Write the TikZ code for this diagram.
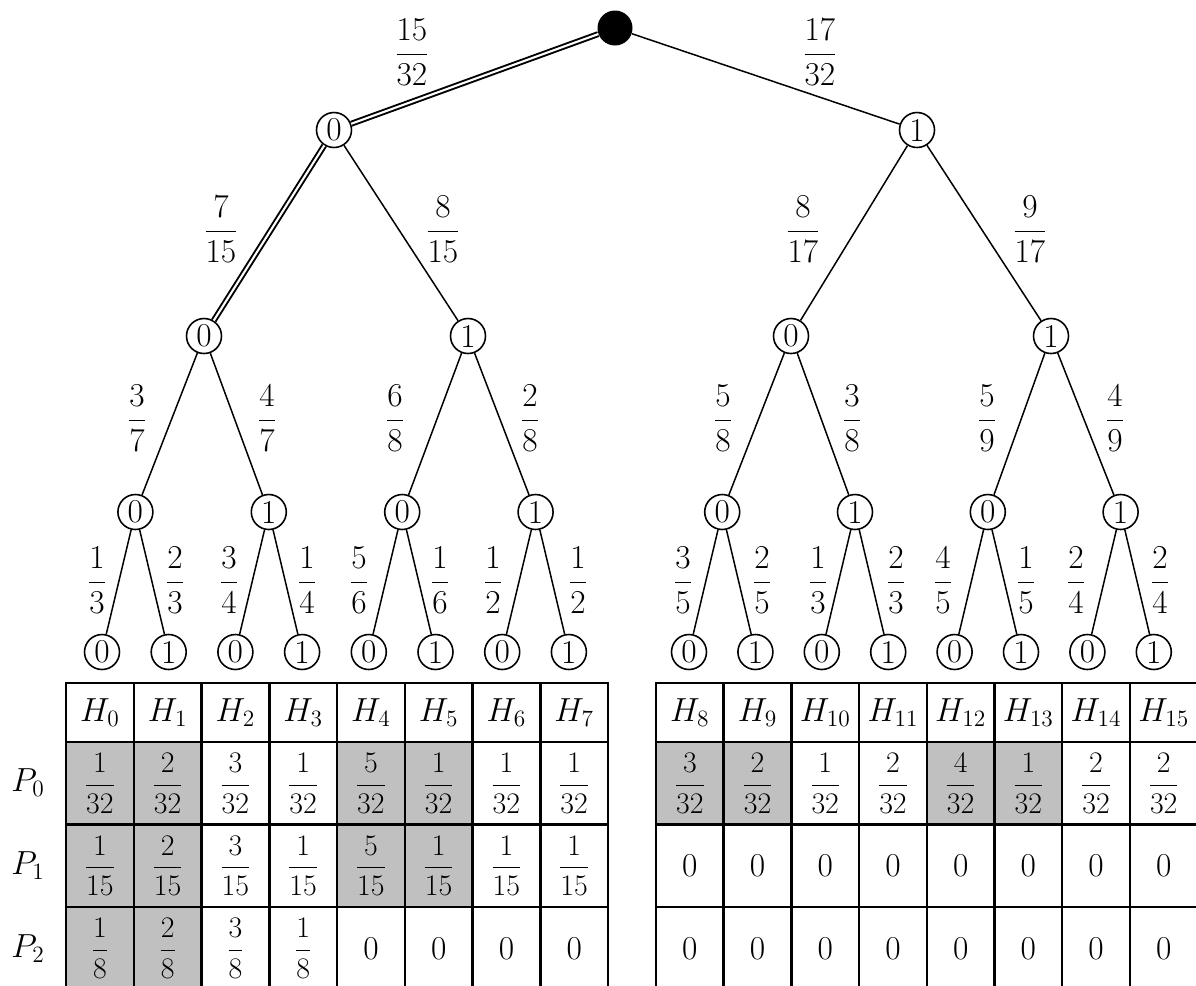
\RequirePackage{fix-cm}
\documentclass[tikz,border=0pt]{standalone}
\usepackage{amsmath}
\usetikzlibrary{positioning}
\definecolor{tbGray}{RGB}{192,192,192}
\newcommand{\cellfrac}[2]{{\fontsize{17}{20}\selectfont$\dfrac{#1}{#2}$}}
\tikzset{
    base/.style={font=\fontsize{19}{22}\selectfont, inner sep=0pt, align=center},
    state/.style={base, circle, draw, line width=0.9pt, minimum size=0.7cm},
    start/.style={circle, fill=black, inner sep=0pt, minimum size=0.7cm},
    branch/.style={line width=0.85pt},
    chosen/.style={double, line width=1.1pt, double distance=1.2pt},
    prob/.style={base},
    cell/.style={base, rectangle, draw, line width=1.4pt, minimum width=1.355cm},
    hcell/.style={cell, minimum height=1.18cm},
    vcell/.style={cell, minimum height=1.65cm},
    shaded/.style={fill=tbGray},
    plain/.style={}
}

\begin{document}
\begin{tikzpicture}[x=0.02cm, y=-0.02cm]
  \clip (0,0) rectangle (1196,985);

  % Tree (upper levels)
  \node[start] (root) at (615,28) {};
  \node[state] (n0) at (334,130) {0};
  \node[state] (n1) at (917,130) {1};
  \node[state] (n00) at (204,336) {0};
  \node[state] (n01) at (468,336) {1};
  \node[state] (n10) at (791,336) {0};
  \node[state] (n11) at (1051,336) {1};
  \foreach \x/\b [count=\k from 0] in {135.4/0, 268.8/1, 402.2/0, 535.6/1, 722.2/0, 855/1, 987.8/0, 1120.6/1}
    \node[state] (m\k) at (\x,512) {\b};

  \draw[chosen] (root) -- (n0);
  \draw[branch] (root) -- (n1);
  \draw[chosen] (n0) -- (n00);
  \draw[branch] (n0) -- (n01);
  \draw[branch] (n1) -- (n10);
  \draw[branch] (n1) -- (n11);
  \draw[branch] (n00) -- (m0);
  \draw[branch] (n00) -- (m1);
  \draw[branch] (n01) -- (m2);
  \draw[branch] (n01) -- (m3);
  \draw[branch] (n10) -- (m4);
  \draw[branch] (n10) -- (m5);
  \draw[branch] (n11) -- (m6);
  \draw[branch] (n11) -- (m7);

  % Leaves
  \foreach \x [count=\k from 0] in {102,168.7,235.4,302.1,368.8,435.5,502.2,568.9,689,755.4,821.8,888.2,954.6,1021,1087.4,1153.8}{
    \pgfmathtruncatemacro{\b}{mod(\k,2)}
    \pgfmathtruncatemacro{\p}{div(\k,2)}
    \node[state] (leaf\k) at (\x,652) {\b};
    \draw[branch] (m\p) -- (leaf\k);
  }

  % Branch probabilities
  \node[prob] (p0) at (412,52) {$\dfrac{15}{32}$};
  \node[prob] (p1) at (820,52) {$\dfrac{17}{32}$};
  \node[prob] (p00) at (221,229) {$\dfrac{7}{15}$};
  \node[prob] (p01) at (443,229) {$\dfrac{8}{15}$};
  \node[prob] (p10) at (803,229) {$\dfrac{8}{17}$};
  \node[prob] (p11) at (1030,229) {$\dfrac{9}{17}$};
  \foreach \x/\n/\d [count=\k from 0] in {137/3/7, 267/4/7, 395/6/8, 530/2/8, 723/5/8, 852/3/8, 987/5/9, 1115/4/9}
    \node[prob] (q\k) at (\x,418) {$\dfrac{\n}{\d}$};
  \foreach \x/\n/\d [count=\k from 0] in {97/1/3, 175/2/3, 229/3/4, 307/1/4, 359/5/6, 440/1/6, 493/1/2, 578/1/2,
                                          683/3/5, 762/2/5, 818/1/3, 896/2/3, 943/4/5, 1026/1/5, 1076/2/4, 1160/2/4}
    \node[prob] (r\k) at (\x,580) {$\dfrac{\n}{\d}$};

  % Left table
  \foreach \i in {0,...,7}
    \node[hcell] (lh\i) at (99.9+67.75*\i,712.5) {$H_{\i}$};
  \foreach \t/\f [count=\i from 0] in {\cellfrac{1}{32}/shaded, \cellfrac{2}{32}/shaded, \cellfrac{3}{32}/plain, \cellfrac{1}{32}/plain,
                                      \cellfrac{5}{32}/shaded, \cellfrac{1}{32}/shaded, \cellfrac{1}{32}/plain, \cellfrac{1}{32}/plain}
    \node[vcell, \f] (la0-\i) at (99.9+67.75*\i,783.25) {\t};
  \foreach \t/\f [count=\i from 0] in {\cellfrac{1}{15}/shaded, \cellfrac{2}{15}/shaded, \cellfrac{3}{15}/plain, \cellfrac{1}{15}/plain,
                                      \cellfrac{5}{15}/shaded, \cellfrac{1}{15}/shaded, \cellfrac{1}{15}/plain, \cellfrac{1}{15}/plain}
    \node[vcell, \f] (la1-\i) at (99.9+67.75*\i,865.75) {\t};
  \foreach \t/\f [count=\i from 0] in {\cellfrac{1}{8}/shaded, \cellfrac{2}{8}/shaded, \cellfrac{3}{8}/plain, \cellfrac{1}{8}/plain,
                                      $0$/plain, $0$/plain, $0$/plain, $0$/plain}
    \node[vcell, \f] (la2-\i) at (99.9+67.75*\i,948.25) {\t};

  % Right table
  \foreach \i in {8,...,15}
    \node[hcell] (rh\i) at (689.85+67.7*\i-541.6,712.5) {$H_{\i}$};
  \foreach \t/\f [count=\i from 0] in {\cellfrac{3}{32}/shaded, \cellfrac{2}{32}/shaded, \cellfrac{1}{32}/plain, \cellfrac{2}{32}/plain,
                                      \cellfrac{4}{32}/shaded, \cellfrac{1}{32}/shaded, \cellfrac{2}{32}/plain, \cellfrac{2}{32}/plain}
    \node[vcell, \f] (ra0-\i) at (689.85+67.7*\i,783.25) {\t};
  \foreach \r in {1,2}
    \foreach \i in {0,...,7}
      \node[vcell] (ra\r-\i) at (689.85+67.7*\i,783.25+82.5*\r) {$0$};

  % Row labels
  \node[base] (P0) at (28,783) {$P_0$};
  \node[base] (P1) at (28,866) {$P_1$};
  \node[base] (P2) at (28,949) {$P_2$};
\end{tikzpicture}
\end{document}
